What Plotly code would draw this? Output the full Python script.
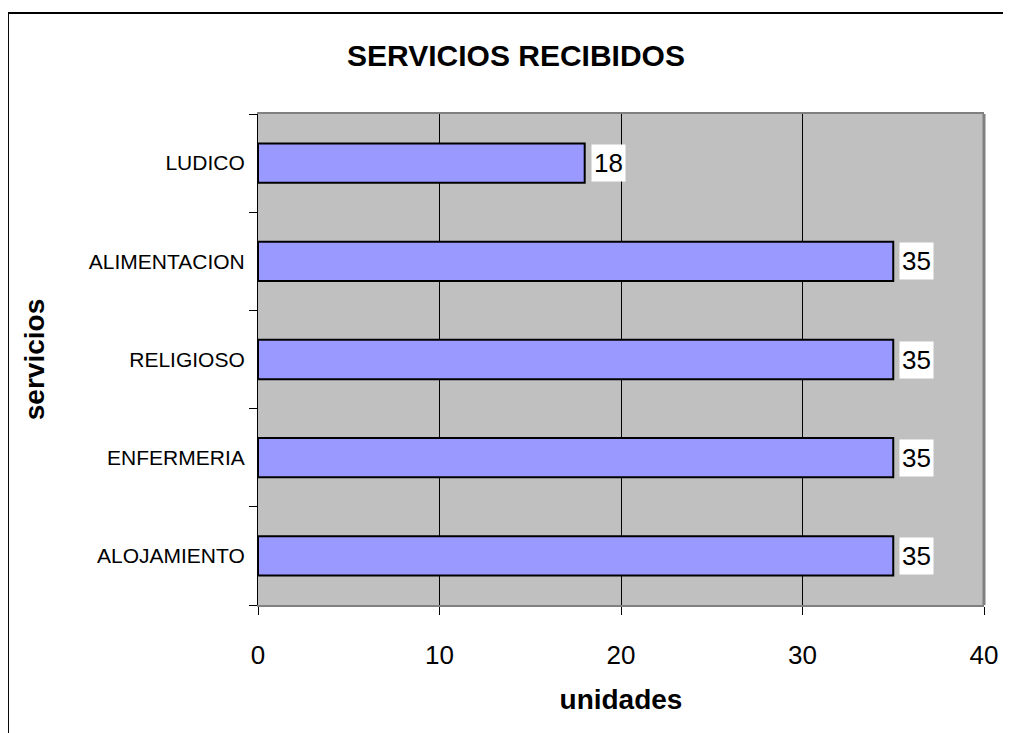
import plotly.graph_objects as go

servicios = ["ALOJAMIENTO", "ENFERMERIA", "RELIGIOSO", "ALIMENTACION", "LUDICO"]
unidades = [35, 35, 35, 35, 18]
x_ticks = [0, 10, 20, 30, 40]

font = "Arial, Liberation Sans, sans-serif"

fig = go.Figure()
fig.add_trace(go.Bar(
    y=servicios, x=unidades, orientation="h",
    marker=dict(color="#9999FF", line=dict(color="black", width=2)),
    width=0.4, showlegend=False,
))

# value labels with white box
for s, v in zip(servicios, unidades):
    fig.add_annotation(x=v, y=s, text=str(v), showarrow=False,
                       xanchor="left", xshift=6, bgcolor="white", borderpad=0,
                       width=33, height=36, align="center",
                       font=dict(family=font, size=26, color="black"))

# outer chart frame
fig.add_shape(type="rect", xref="paper", yref="paper",
              x0=-0.3444, x1=1.2, y0=-0.5, y1=1.2057,
              line=dict(color="black", width=2), fillcolor="rgba(0,0,0,0)", layer="below")
# right edge of plot area
fig.add_shape(type="line", xref="paper", yref="paper", x0=1, x1=1, y0=0, y1=1,
              line=dict(color="#808080", width=3))

fig.update_layout(
    width=1003, height=725,
    margin=dict(l=250, r=27, t=106, b=128),
    paper_bgcolor="white", plot_bgcolor="#C0C0C0",
    title=dict(text="<b>SERVICIOS RECIBIDOS</b>", x=0.5065, xref="container", xanchor="center",
               y=0.935, yanchor="middle",
               font=dict(family=font, size=30, color="black")),
    bargap=0.6,
)
fig.update_xaxes(
    range=[0, 40], tickvals=x_ticks, ticks="outside", ticklen=8, tickcolor="black",
    showgrid=True, gridcolor="black", gridwidth=1, zeroline=False,
    showline=True, linecolor="#808080", linewidth=2, mirror=True,
    tickfont=dict(family=font, size=26, color="black"), ticklabelstandoff=18,
    title=dict(text="<b>unidades</b>", font=dict(family=font, size=28, color="black"), standoff=20),
)
fig.update_yaxes(
    ticks="outside", tickson="boundaries", ticklen=8, tickcolor="black",
    showgrid=False, showline=True, linecolor="black", linewidth=1,
    tickfont=dict(family=font, size=21, color="black"), ticklabelstandoff=8,
    title=dict(text="<b>servicios</b>", font=dict(family=font, size=28, color="black"), standoff=36),
)

fig.write_html("out.html")
